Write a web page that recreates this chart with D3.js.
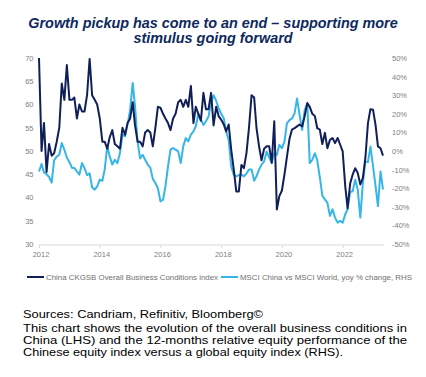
<!DOCTYPE html>
<html>
<head>
<meta charset="utf-8">
<script src="https://cdn.jsdelivr.net/npm/d3@7"></script>
<style>
  body { margin: 0; background: #fff; }
  text { font-family: Arial, "Liberation Sans", sans-serif; }
</style>
</head>
<body>
<svg width="426" height="377"></svg>
<script>
// monthly series, first value = Jan 2012
var startMonth = "2012-01";

var ckgsb = [
  70, 50, 56, 45.5, 51.5, 49, 49.5, 52, 55, 64.5, 61, 68.5,
  61, 61, 61.5, 57, 60, 58.5, 58.5, 62, 69.8, 62, 61, 60,
  57, 52, 52, 50.5, 53, 54.5, 51.5, 51, 50.5, 55, 53.5, 56,
  57, 60.5, 55.5, 52, 52, 51, 54, 54.5, 54, 51, 55, 59.5,
  59.3, 58, 57, 56, 54.5, 57, 58, 60.5, 61, 59.5, 61, 59.5,
  64, 56, 59.5, 58, 56.5, 62.5, 59, 59, 62.5, 55.5, 59.5, 57.5,
  56.7, 55.7, 54.2, 55.7, 50.3, 46, 41.3, 41.3, 47, 46.3, 49.6, 55,
  62, 61.5, 55, 51, 48, 50.5, 51, 51, 47.5, 56.4, 37.4, 40.3,
  41.5, 45, 48.7, 52.6, 54.6, 54.9, 55.3, 55.7, 55.3, 57.5, 60.3, 59.5,
  58, 57.5, 54.9, 54.6, 51.5, 53.9, 50.6, 52.4, 52.8, 51.7, 52.8, 51.4,
  49.9, 42.4, 37.7, 43, 44.9, 46.3, 45.3, 42.8, 44.2, 48.5, 56, 59,
  58.9, 55.5, 51, 50.6, 49
];

var msci = [
  -11, -7, -11.5, -12.5, -14, -17, -5, -3, -2, 4.3, 0.7, -3.5,
  -6, -9, -9.1, -10.9, -12.7, -6.5, -9.1, -13, -12, -19.5, -20.8, -19,
  -15.4, -16, -10, 2.5, -2.9, -7.3, -4.7, -6.5, -1.1, 8.8, 7.9, 14.2,
  22, 36.6, 24, 5, -4, -2, -4.7, -7.3, -9, -15, -17.2, -20,
  -27.1, -26.2, -19, -8.2, 0.7, 1.6, 0.7, -0.2, -6.5, 2.5, 7, 5.2,
  8.8, 10.6, 13.3, 20, 17, 14, 16, 18.5, 26, 30, 27, 23,
  20, 17.5, 10.4, 6, -8.3, -12.7, -13.6, -13, -12.7, -13.6, -12, -10,
  -10, -16, -13.6, -10, -7.4, -5.6, -0.3, -3.5, -6.5, -1.2, -2, 3.3,
  1.5, 5, 14.8, 16.6, 17.5, 20.2, 28.2, 19.3, 11.3, 22, 25.5, -6.5,
  -4.7, -1.2, -5, -14, -24, -26, -27.8, -34.9, -31.3, -35.8, -38.5, -37.6,
  -38.5, -34, -31.3, -22, -21.6, -15.4, -20.7, -35.8, -17.2, -5.6, -6, 2.4,
  -8.3, -19, -29.6, -11, -20.7
];

var yearTicks = [2012, 2014, 2016, 2018, 2020, 2022];
var leftTicks = [30, 35, 40, 45, 50, 55, 60, 65, 70];
var rightTicks = [-50, -40, -30, -20, -10, 0, 10, 20, 30, 40, 50];
var seriesNames = ["China CKGSB Overall Business Conditions index", "MSCI China vs MSCI World, yoy % change, RHS"];
var titleLines = ["Growth pickup has come to an end \u2013 supporting more", "stimulus going forward"];
var noteLines = [
  "Sources: Candriam, Refinitiv, Bloomberg\u00a9",
  "This chart shows the evolution of the overall business conditions in",
  "China (LHS) and the 12-months relative equity performance of the",
  "Chinese equity index versus a global equity index (RHS)."
];

var darkBlue = "#111f58", lightBlue = "#36b5e8", grey = "#808080";

var svg = d3.select("svg");
var parse = d3.timeParse("%Y-%m");
var first = parse(startMonth);
var months = d3.timeMonth.range(first, d3.timeMonth.offset(first, ckgsb.length));

var x = d3.scaleTime().domain([months[0], months[months.length - 1]]).range([39, 383]);
var yL = d3.scaleLinear().domain([30, 70]).range([244, 58]);
var yR = d3.scaleLinear().domain([-50, 50]).range([244, 58]);

// title
svg.append("g").selectAll("text").data(titleLines).enter().append("text")
    .attr("x", 213)
    .attr("y", function(d, i) { return 28 + i * 15; })
    .attr("text-anchor", "middle")
    .attr("font-size", "14.4px")
    .attr("font-weight", "bold")
    .attr("font-style", "italic")
    .attr("fill", "#0d2a5e")
    .text(function(d) { return d; });

// x axis
var xAxis = svg.append("g")
    .attr("transform", "translate(0,245)")
    .call(d3.axisBottom(x)
      .tickValues(yearTicks.map(function(y) { return new Date(y, 0, 1); }))
      .tickFormat(d3.timeFormat("%Y"))
      .tickSize(3)
      .tickPadding(4));
xAxis.select(".domain").attr("stroke", "#d9d9d9").attr("d", "M39,0H384");
xAxis.selectAll("line").attr("stroke", "#d9d9d9");
xAxis.selectAll("text").attr("fill", grey).attr("font-size", "7.5px").attr("dx", "1.5");

// left axis
var lAxis = svg.append("g")
    .attr("transform", "translate(33.5,0)")
    .call(d3.axisLeft(yL).tickValues(leftTicks).tickSize(0).tickPadding(0));
lAxis.select(".domain").remove();
lAxis.selectAll("text").attr("fill", grey).attr("font-size", "7.5px");

// right axis
var rAxis = svg.append("g")
    .attr("transform", "translate(392,0)")
    .call(d3.axisRight(yR).tickValues(rightTicks).tickSize(0).tickPadding(0)
      .tickFormat(function(d) { return d + "%"; }));
rAxis.select(".domain").remove();
rAxis.selectAll("text").attr("fill", grey).attr("font-size", "7.5px");

// lines
var lineL = d3.line()
    .x(function(d, i) { return x(months[i]); })
    .y(function(d) { return yL(d); });
var lineR = d3.line()
    .x(function(d, i) { return x(months[i]); })
    .y(function(d) { return yR(d); });

svg.append("path").datum(msci)
    .attr("d", lineR)
    .attr("fill", "none")
    .attr("stroke", lightBlue)
    .attr("stroke-width", 2)
    .attr("stroke-linejoin", "round");

svg.append("path").datum(ckgsb)
    .attr("d", lineL)
    .attr("fill", "none")
    .attr("stroke", darkBlue)
    .attr("stroke-width", 2)
    .attr("stroke-linejoin", "round");

// legend
var legX = [27, 221];
var legend = svg.append("g").selectAll("g").data(seriesNames).enter().append("g")
    .attr("transform", function(d, i) { return "translate(" + legX[i] + ",277)"; });
legend.append("line")
    .attr("x1", 0).attr("x2", 17)
    .attr("stroke", function(d, i) { return i == 0 ? darkBlue : lightBlue; })
    .attr("stroke-width", 2);
legend.append("text")
    .attr("x", 19)
    .attr("dy", "0.35em")
    .attr("font-size", "7.9px")
    .attr("fill", "#707070")
    .attr("textLength", 172)
    .attr("lengthAdjust", "spacingAndGlyphs")
    .text(function(d) { return d; });

// source note
var noteY = [318, 332, 344, 356];
var noteW = [240, 384, 384, 320];
svg.append("g").selectAll("text").data(noteLines).enter().append("text")
    .attr("x", 23)
    .attr("y", function(d, i) { return noteY[i]; })
    .attr("font-size", "11.6px")
    .attr("fill", "#000")
    .attr("textLength", function(d, i) { return noteW[i]; })
    .attr("lengthAdjust", "spacingAndGlyphs")
    .text(function(d) { return d; });
</script>
</body>
</html>
